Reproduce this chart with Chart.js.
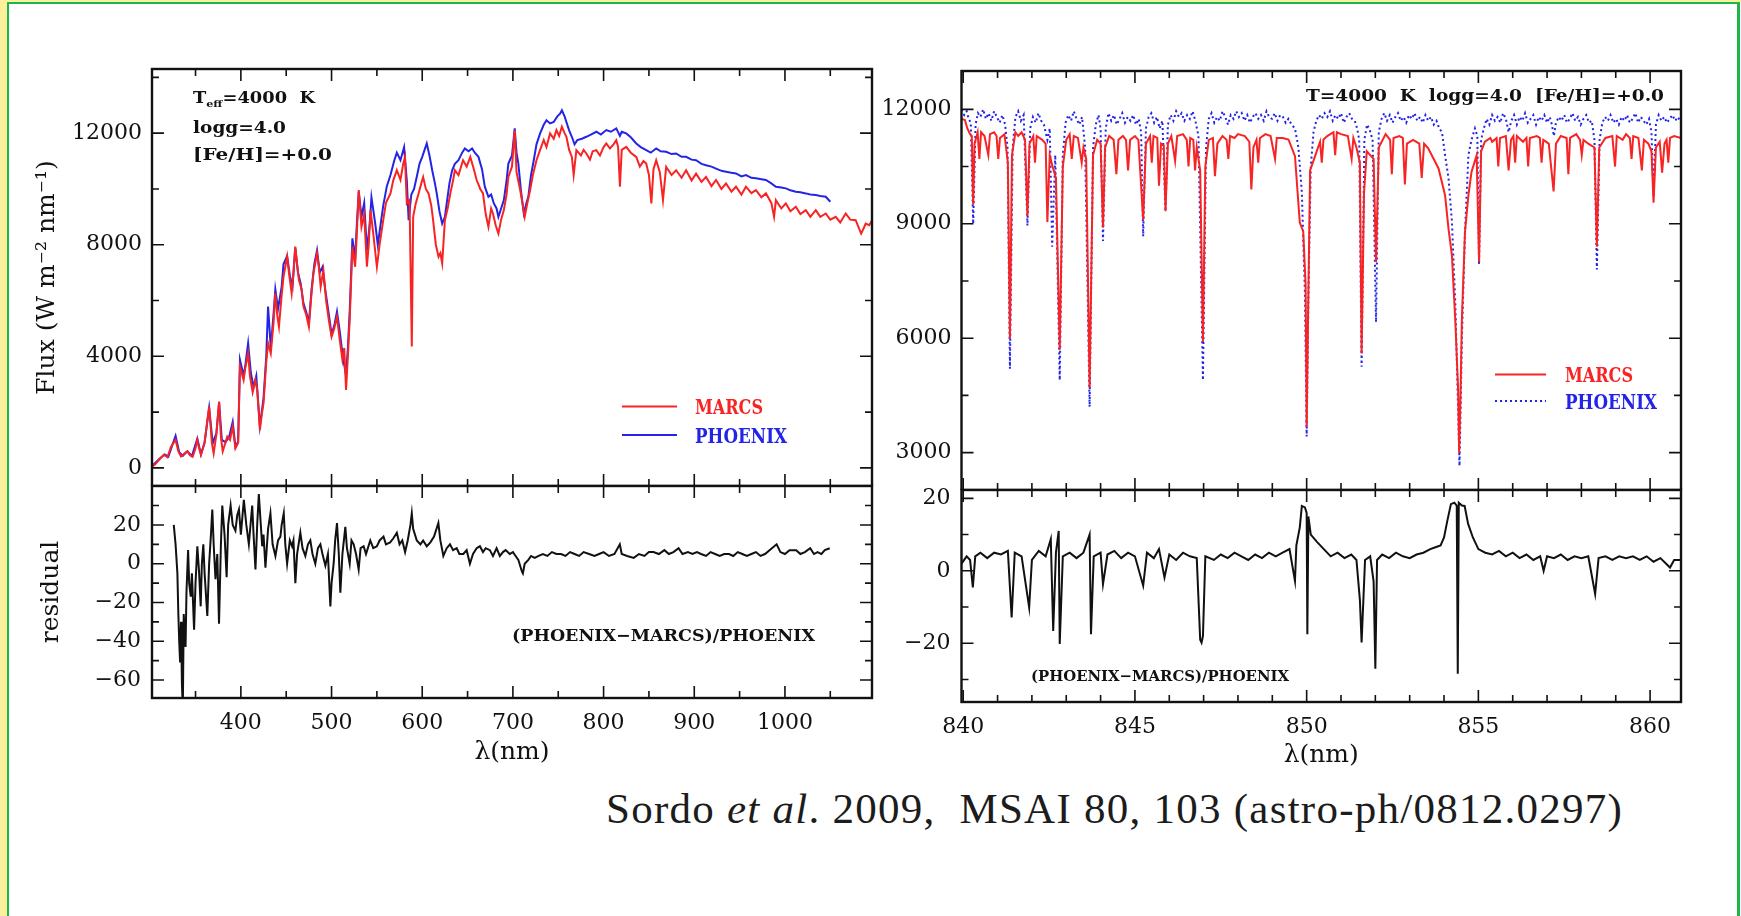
<!DOCTYPE html>
<html>
<head>
<meta charset="utf-8">
<script src="https://cdn.jsdelivr.net/npm/chart.js@4/dist/chart.umd.min.js"></script>
<style>
  html, body { margin: 0; padding: 0; background: #fff; }
  body { width: 1741px; height: 916px; position: relative; overflow: hidden; }
  .edge { position: absolute; }
  canvas { position: absolute; }
  .cite {
    position: absolute; left: 606px; top: 787px; white-space: nowrap;
    font: 43px "Liberation Serif", serif; line-height: 1; letter-spacing: 1.25px; color: #1c1c1c;
  }
</style>
</head>
<body>
<div class="edge" style="left:0;top:0;width:7px;height:916px;background:#fdf09c"></div>
<div class="edge" style="left:0;top:0;width:1741px;height:2px;background:#fdf09c"></div>
<div class="edge" style="left:7px;top:2px;width:2px;height:914px;background:#1db54a"></div>
<div class="edge" style="left:7px;top:2px;width:1733px;height:2px;background:#1db54a"></div>
<div class="edge" style="left:1737px;top:2px;width:3px;height:914px;background:#1db54a"></div>

<canvas id="wideFlux"></canvas>
<canvas id="wideResid"></canvas>
<canvas id="narrowFlux"></canvas>
<canvas id="narrowResid"></canvas>

<div class="cite">Sordo <i>et al</i>. 2009,&nbsp; MSAI 80, 103 (astro-ph/0812.0297)</div>

<script>
// ---------- broad spectrum, 300-1100 nm ----------
const marcsWideWave = [
  302, 305, 310, 315, 319, 323, 328, 331, 334, 338,
  341, 344, 347, 350, 352, 354, 356, 360, 365, 368,
  370, 373, 376, 378, 380, 383, 385, 388, 391, 394,
  397, 399, 403, 405, 408, 410, 413, 416, 418, 421,
  423, 425, 428, 430, 433, 436, 438, 440, 442, 445,
  447, 451, 453, 456, 458, 460, 462, 464, 467, 469,
  472, 475, 478, 480, 484, 486, 488, 491, 494, 497,
  500, 503, 506, 509, 512, 514, 516, 518, 520, 523,
  526, 528, 530, 533, 536, 539, 541, 543, 546, 550,
  553, 557, 560, 565, 568, 572, 576, 579, 581, 583,
  586, 588.5, 590, 593, 596, 599, 601, 604, 607, 610,
  612, 615, 618, 620, 622, 625, 628, 631, 634, 636,
  640, 645, 649, 653, 657, 660, 664, 667, 670, 673,
  676, 678, 681, 684, 687, 690, 693, 695, 699, 702,
  704, 708, 711, 713, 716, 719, 722, 726, 730, 734,
  737, 741, 745, 748, 751, 754, 757, 759, 762, 765,
  767, 770, 775, 778, 781, 785, 788, 792, 796, 800,
  803, 807, 811, 814, 816, 818, 820, 825, 830, 836,
  840, 844, 847, 850, 852.7, 855, 858, 862, 865.5, 869,
  875, 880, 886, 891, 897, 902, 908, 913, 919, 924,
  930, 935, 941, 946, 952, 957, 963, 968, 974, 979,
  985, 988, 990, 996, 1001, 1006, 1012, 1017, 1023, 1028,
  1034, 1039, 1045, 1050, 1056, 1061, 1067, 1072, 1078, 1084,
  1087, 1089, 1093, 1096
]
const marcsWide = [
  50, 110, 300, 470, 380, 760, 1000, 600, 410, 520,
  590, 450, 410, 700, 1000, 700, 470, 900, 2200, 900,
  520, 1200, 2380, 1100, 590, 900, 1120, 1000, 1480, 700,
  900, 3630, 3150, 3600, 4110, 3300, 2710, 3150, 2800, 1360,
  1900, 2320, 3800, 4470, 4110, 5200, 6260, 5500, 5060, 6200,
  6850, 7570, 7000, 6260, 7000, 7930, 7300, 6730, 6400, 5780,
  5500, 5060, 6300, 6970, 7690, 7200, 6500, 7090, 6000, 5300,
  4700, 5000, 5420, 4600, 3870, 4300, 2790, 4000, 5300, 7930,
  7210, 8500, 9960, 8640, 9100, 7210, 8000, 9240, 8400, 7210,
  8000, 8880, 9500, 9840, 10300, 10670, 10320, 10900, 11150, 9480,
  9600, 4350, 9000, 9500, 9840, 10200, 10430, 10000, 9840, 9400,
  8880, 8000, 7570, 7700, 7330, 8880, 9300, 9840, 10300, 10670,
  10500, 11030, 10800, 11150, 10700, 10320, 10000, 9840, 9100, 8640,
  9300, 9120, 8700, 8400, 8900, 9240, 9800, 10430, 10800, 12100,
  10600, 9960, 9400, 9000, 9500, 9960, 10500, 11030, 11400, 11750,
  11500, 11990, 11800, 12110, 11900, 12230, 12000, 11870, 11400, 11150,
  10500, 11390, 11200, 11400, 11270, 11050, 11350, 11390, 11200, 11500,
  11630, 11450, 11600, 11750, 11500, 10080, 11400, 11510, 11300, 11150,
  10800, 11000, 10910, 10500, 9480, 10700, 11030, 10600, 9600, 10790,
  10500, 10670, 10400, 10670, 10300, 10550, 10250, 10430, 10100, 10320,
  10000, 10200, 9900, 10080, 9800, 10080, 9850, 9960, 9700, 9840,
  9500, 9000, 9600, 9300, 9480, 9200, 9360, 9100, 9240, 9000,
  9240, 9000, 9120, 8900, 9000, 8800, 9120, 8900, 8880, 8400,
  8600, 8760, 8700, 8880
]
const phoenixWideWave = [
  302, 310, 316, 320, 324, 328, 332, 336, 341, 346,
  352, 356, 360, 365, 369, 373, 376, 379, 383, 387,
  391, 394, 397, 399, 403, 405, 408, 411, 414, 417,
  421, 425, 428, 430, 433, 436, 438, 441, 445, 447,
  451, 454, 457, 460, 463, 466, 469, 472, 475, 478,
  481, 484, 487, 490, 493, 497, 500, 503, 506, 509,
  512, 516, 518, 520, 523, 526, 528, 530, 533, 536,
  539, 542, 544, 548, 551, 554, 557, 561, 565, 569,
  572, 576, 580, 583, 585, 588, 591, 594, 597, 600,
  605, 608, 611, 614, 616, 619, 622, 625, 627, 630,
  633, 636, 640, 644, 647, 651, 655, 658, 662, 666,
  669, 673, 676, 679, 682, 684, 687, 690, 693, 695,
  699, 702, 704, 706, 709, 712, 715, 717, 720, 723,
  726, 730, 734, 737, 741, 745, 749, 752, 754, 757,
  759, 762, 765, 768, 771, 776, 781, 786, 792, 797,
  803, 808, 814, 818, 820, 825, 830, 836, 841, 847,
  852, 858, 863, 869, 875, 880, 886, 891, 897, 902,
  908, 913, 919, 924, 930, 935, 941, 946, 952, 957,
  963, 968, 974, 979, 985, 990, 996, 1001, 1006, 1012,
  1017, 1023, 1028, 1034, 1039, 1045, 1050
]
const phoenixWide = [
  60, 320, 480, 400, 780, 1150, 560, 430, 600, 420,
  1050, 480, 920, 2150, 880, 1250, 2350, 1000, 920, 1100,
  1650, 760, 950, 3870, 3300, 3700, 4470, 3400, 2900, 3300,
  1500, 2500, 4000, 5780, 4300, 5500, 6400, 5700, 6500, 7300,
  7600, 6900, 6500, 7900, 7000, 6600, 5900, 5600, 5200, 6400,
  7300, 7800, 7000, 7200, 6400, 5500, 4800, 5100, 5600, 4900,
  4100, 3300, 4300, 5600, 8230, 7500, 8800, 9900, 9000, 9500,
  7800, 8700, 9700, 8800, 8000, 8700, 9400, 10100, 10500, 11000,
  11300, 11030, 11500, 10300, 8880, 9800, 10000, 10435, 10900, 11150,
  11630, 11200, 10670, 10200, 9840, 9200, 8760, 9000, 9480, 10200,
  10670, 10900, 11030, 11300, 11450, 11350, 11450, 11300, 11150, 10700,
  10080, 9720, 9800, 9480, 9300, 9000, 9300, 9600, 10300, 10910,
  11200, 12170, 11300, 10910, 9900, 9120, 9500, 9720, 10500, 11030,
  11600, 11990, 12300, 12460, 12350, 12400, 12600, 12700, 12820, 12600,
  12400, 12100, 11870, 11600, 11750, 11800, 11870, 11950, 12050, 11950,
  12110, 12050, 12170, 11900, 12050, 11990, 11850, 11630, 11500, 11390,
  11300, 11450, 11350, 11330, 11250, 11270, 11150, 11150, 11050, 11030,
  10900, 10850, 10800, 10730, 10650, 10620, 10580, 10555, 10450, 10500,
  10400, 10380, 10350, 10320, 10200, 10080, 10050, 10020, 9950, 9900,
  9880, 9840, 9800, 9780, 9750, 9720, 9540
]
const residWideWave = [
  326, 328, 330, 331, 332, 333, 334, 335, 336, 337,
  338, 339, 340, 341.8, 343, 344.7, 346, 348.4, 350, 352,
  354, 355.7, 357, 358.6, 360, 363, 365, 367, 368.5, 370,
  372, 374, 375.9, 378, 379.5, 382, 384.3, 386, 388.7, 391,
  394, 396, 397.9, 400, 403.3, 406, 408.8, 411, 412.5, 414,
  416.1, 418, 419.8, 422, 423.5, 425, 427.1, 430, 432.6, 435,
  438.1, 441, 443.6, 445, 447.3, 449, 451, 454, 456.5, 458,
  460.1, 462, 465.6, 468, 471.1, 474, 476.6, 479, 482.1, 485,
  487.7, 490, 493.2, 496, 498.7, 500, 502.3, 504, 506, 508,
  509.7, 512, 515.2, 517, 520, 522, 524.4, 527, 529.9, 532,
  535.4, 538, 542.7, 546, 550, 553, 557.3, 560, 564.6, 568,
  572, 575, 578, 581.1, 584, 587, 588.5, 590, 594, 598,
  601, 605, 609, 613, 617.8, 620, 623.3, 627, 630.6, 634,
  638, 641, 645.3, 649, 652.6, 656, 660, 663.6, 667, 670,
  674.6, 678, 682, 685.6, 689, 692, 696.5, 700, 703, 706,
  709.9, 711, 713, 717, 720, 724, 728.4, 733, 738, 743,
  748, 753, 758, 763, 768, 773, 778, 784, 790, 795,
  800, 806, 812, 817.9, 820, 826, 833.3, 839, 845, 850,
  855, 861, 867, 872, 877, 882.7, 887, 893, 898, 903,
  907.5, 913, 918, 923, 928, 933, 938.3, 943, 948, 953,
  958, 963, 968, 973, 978, 983, 990.8, 995, 1000, 1005,
  1012.4, 1017, 1022, 1027.8, 1032, 1036, 1040.2, 1044, 1049.4
]
const residWide = [
  20, 10, -5, -25, -40, -51, -30, -62, -75, -26,
  -35, -43, -15, 7, -10, -17, -5, -34, -10, 9,
  -5, -22, 0, 10, -5, -27, 0, 15, 28, 10,
  -8, 5, -31, 10, 30, 15, -7, 20, 30, 20,
  17, 25, 28, 15, 33, 20, 10, 22, 30, 15,
  -3, 20, 36, 20, 9, 15, -2, 18, 26, 10,
  4, 12, 14, 20, 26, 10, 0, 12, 9, 12,
  -10, 5, 16, 8, 4, 10, 12, 5, 0, 8,
  10, 5, -1, 5, -22, -10, 0, 12, 21, 5,
  -15, 5, 19, 8, 0, 12, 10, 5, -3, 8,
  9, 5, 12, 8, 9, 12, 14, 10, 11, 13,
  16, 10, 12, 6, 12, 20, 26, 18, 12, 10,
  12, 9, 11, 14, 21, 12, 4, 8, 10, 7,
  8, 5, 5, 7, 0, 5, 8, 9, 6, 8,
  7, 4, 8, 4, 6, 7, 5, 6, 4, 2,
  -4, -5, 0, 2, 4, 3, 4, 5, 4, 6,
  5, 5, 4, 6, 5, 4, 6, 5, 4, 5,
  6, 4, 5, 10, 5, 4, 3, 5, 4, 6,
  6, 5, 7, 5, 6, 8, 5, 6, 5, 6,
  5, 4, 6, 5, 4, 5, 5, 4, 6, 5,
  4, 5, 6, 4, 5, 7, 10, 6, 5, 7,
  7, 5, 6, 8, 5, 6, 5, 7, 8
]

// ---------- Ca II triplet window, 840-861 nm ----------
const marcsNarrowWave = [
  839.95, 840.05, 840.12, 840.2, 840.25, 840.29, 840.33, 840.42, 840.47, 840.52,
  840.62, 840.73, 840.78, 840.9, 840.97, 841.02, 841.07, 841.2, 841.3, 841.36,
  841.42, 841.52, 841.6, 841.7, 841.8, 841.87, 841.93, 842.04, 842.09, 842.14,
  842.3, 842.4, 842.45, 842.52, 842.6, 842.7, 842.81, 842.9, 843.0, 843.1,
  843.16, 843.22, 843.34, 843.45, 843.5, 843.58, 843.68, 843.78, 843.9, 844.0,
  844.07, 844.13, 844.25, 844.38, 844.46, 844.52, 844.65, 844.74, 844.8, 844.86,
  845.0, 845.1, 845.24, 845.32, 845.44, 845.49, 845.54, 845.65, 845.7, 845.76,
  845.84, 845.89, 845.96, 846.06, 846.17, 846.23, 846.4, 846.51, 846.56, 846.61,
  846.7, 846.75, 846.8, 846.9, 846.98, 847.05, 847.15, 847.27, 847.33, 847.4,
  847.55, 847.67, 847.72, 847.77, 847.9, 848.0, 848.2, 848.33, 848.39, 848.45,
  848.54, 848.59, 848.64, 848.8, 848.95, 849.08, 849.13, 849.3, 849.47, 849.66,
  849.8, 849.9, 849.97, 850.0, 850.04, 850.1, 850.24, 850.39, 850.44, 850.49,
  850.6, 850.78, 850.83, 850.88, 851.0, 851.2, 851.31, 851.36, 851.45, 851.55,
  851.6, 851.67, 851.75, 851.85, 851.95, 852.02, 852.1, 852.3, 852.43, 852.48,
  852.53, 852.7, 852.8, 852.86, 852.92, 853.1, 853.28, 853.35, 853.42, 853.54,
  853.84, 854.03, 854.13, 854.23, 854.33, 854.41, 854.44, 854.48, 854.52, 854.61,
  854.71, 854.8, 854.95, 855.02, 855.08, 855.19, 855.35, 855.4, 855.53, 855.58,
  855.63, 855.8, 855.88, 855.95, 856.02, 856.07, 856.12, 856.3, 856.4, 856.45,
  856.5, 856.7, 856.79, 856.84, 856.89, 857.05, 857.19, 857.26, 857.4, 857.57,
  857.62, 857.67, 857.85, 857.96, 858.01, 858.06, 858.2, 858.38, 858.45, 858.52,
  858.7, 858.9, 858.98, 859.03, 859.2, 859.3, 859.41, 859.46, 859.51, 859.66,
  859.76, 859.82, 859.95, 860.04, 860.1, 860.17, 860.28, 860.35, 860.42, 860.48,
  860.53, 860.58, 860.7, 860.9
]
const marcsNarrow = [
  11750, 11720, 11500, 11350, 11300, 9500, 11100, 11400, 10700, 11400,
  11300, 10800, 11350, 11400, 11300, 10700, 11250, 11350, 10600, 6000,
  10800, 11400, 11300, 11400, 11200, 9200, 11100, 11300, 10600, 11300,
  11200, 11100, 9050, 10800, 10500, 10200, 5700, 10500, 11200, 11350,
  10700, 11300, 11250, 10600, 11000, 10700, 4700, 10800, 11200, 11100,
  8900, 11000, 11300, 11200, 10300, 11200, 11300, 11200, 10400, 11200,
  11300, 11200, 9100, 11100, 11300, 10600, 11300, 11250, 10000, 11100,
  11050, 9330, 11100, 11300, 10650, 11300, 11350, 11200, 10500, 11250,
  11200, 10400, 11000, 10400, 5900, 10500, 11200, 11250, 10250, 11100,
  11300, 11200, 10700, 11300, 11250, 11350, 11300, 11150, 9900, 11000,
  11200, 10600, 11250, 11350, 11300, 10700, 11250, 11250, 11210, 10770,
  9030, 8800, 7400, 3680, 6500, 10400, 10760, 11150, 10600, 11210,
  11300, 11400, 10800, 11400, 11350, 11300, 10700, 11250, 11000, 10600,
  5600, 9800, 10900, 10800, 10700, 8000, 11000, 11350, 11200, 10300,
  11250, 11300, 11250, 10030, 11100, 11200, 11100, 10200, 11100, 10980,
  10450, 9750, 8870, 8170, 6420, 4670, 3000, 4500, 6500, 8780,
  9750, 10360, 10800, 8000, 10900, 11150, 11250, 11150, 11250, 10500,
  11250, 11300, 10400, 11200, 11300, 10600, 11300, 11150, 11250, 10500,
  11250, 11300, 11250, 10600, 11200, 11100, 9850, 11100, 11300, 11250,
  10300, 11250, 11350, 11200, 10800, 11200, 11100, 11000, 8400, 11000,
  11250, 11300, 10500, 11300, 11200, 11350, 11250, 10700, 11300, 11250,
  10400, 11200, 11100, 10900, 9550, 11000, 11150, 10340, 11100, 11200,
  10600, 11250, 11300, 11250
]
const phoenixNarrowWave = [
  839.95, 840.03, 840.1, 840.16, 840.22, 840.29, 840.36, 840.43, 840.5, 840.58,
  840.66, 840.74, 840.82, 840.9, 840.98, 841.06, 841.14, 841.22, 841.29, 841.36,
  841.44, 841.52, 841.6, 841.68, 841.76, 841.87, 841.95, 842.03, 842.11, 842.19,
  842.27, 842.35, 842.45, 842.52, 842.59, 842.68, 842.81, 842.9, 842.98, 843.06,
  843.14, 843.22, 843.3, 843.38, 843.46, 843.55, 843.68, 843.78, 843.86, 843.94,
  844.0, 844.07, 844.15, 844.23, 844.31, 844.39, 844.47, 844.55, 844.63, 844.71,
  844.79, 844.87, 844.95, 845.03, 845.11, 845.18, 845.24, 845.32, 845.4, 845.48,
  845.56, 845.64, 845.72, 845.8, 845.89, 845.96, 846.04, 846.12, 846.2, 846.28,
  846.36, 846.44, 846.52, 846.6, 846.68, 846.76, 846.85, 846.98, 847.07, 847.15,
  847.23, 847.31, 847.39, 847.47, 847.55, 847.63, 847.71, 847.79, 847.87, 847.95,
  848.03, 848.11, 848.19, 848.27, 848.35, 848.43, 848.51, 848.59, 848.67, 848.75,
  848.83, 848.91, 848.99, 849.07, 849.15, 849.23, 849.31, 849.39, 849.47, 849.56,
  849.66, 849.76, 849.86, 849.95, 850.0, 850.05, 850.12, 850.2, 850.28, 850.36,
  850.44, 850.52, 850.6, 850.68, 850.76, 850.84, 850.92, 851.0, 851.08, 851.16,
  851.24, 851.32, 851.4, 851.47, 851.53, 851.6, 851.68, 851.76, 851.84, 851.92,
  852.02, 852.1, 852.18, 852.26, 852.34, 852.42, 852.5, 852.58, 852.66, 852.74,
  852.82, 852.9, 852.98, 853.06, 853.14, 853.22, 853.3, 853.38, 853.46, 853.54,
  853.62, 853.7, 853.78, 853.86, 853.94, 854.03, 854.13, 854.23, 854.33, 854.42,
  854.45, 854.48, 854.52, 854.61, 854.71, 854.8, 854.9, 854.97, 855.02, 855.08,
  855.16, 855.24, 855.32, 855.4, 855.48, 855.56, 855.64, 855.72, 855.8, 855.88,
  855.96, 856.04, 856.12, 856.2, 856.28, 856.36, 856.44, 856.52, 856.6, 856.68,
  856.76, 856.84, 856.92, 857.0, 857.08, 857.14, 857.2, 857.26, 857.34, 857.42,
  857.5, 857.58, 857.66, 857.74, 857.82, 857.9, 857.98, 858.06, 858.14, 858.22,
  858.3, 858.38, 858.45, 858.53, 858.61, 858.69, 858.77, 858.85, 858.93, 859.01,
  859.09, 859.17, 859.25, 859.33, 859.41, 859.49, 859.57, 859.65, 859.73, 859.81,
  859.89, 859.97, 860.04, 860.1, 860.17, 860.25, 860.33, 860.41, 860.49, 860.57,
  860.65, 860.73, 860.81, 860.9
]
const phoenixNarrow = [
  12000, 11850, 11950, 11750, 11650, 9000, 11600, 11900, 11800, 12000,
  11750, 11900, 11700, 11950, 11800, 11650, 11850, 11600, 11000, 5200,
  11000, 11800, 11950, 11700, 11850, 8950, 11500, 11800, 11650, 11900,
  11700, 11600, 11200, 11500, 8400, 10800, 4900, 10800, 11650, 11850,
  11700, 11950, 11750, 11600, 11800, 11000, 4200, 11000, 11600, 11850,
  11500, 8550, 11500, 11900, 11700, 11850, 11600, 11750, 11900, 11650,
  11800, 11700, 11850, 11600, 11750, 11400, 8670, 11500, 11800, 11900,
  11650, 11800, 11500, 11700, 9330, 11600, 11850, 11700, 11950, 11800,
  11900, 11700, 11850, 11750, 11950, 11700, 11300, 4900, 11000, 11750,
  11900, 11650, 11800, 11700, 11950, 11800, 11600, 11850, 11750, 11950,
  11800, 11900, 11700, 11850, 11650, 11800, 11900, 11750, 11850, 11700,
  11950, 11800, 11750, 11900, 11700, 11850, 11800, 11650, 11750, 11600,
  11500, 11000, 9810, 7180, 3420, 7000, 10500, 11400, 11700, 11850,
  11750, 11900, 11800, 11950, 11700, 11850, 11750, 11900, 11650, 11800,
  11900, 11750, 11700, 11500, 11200, 5250, 11200, 11600, 11450, 11200,
  6420, 11400, 11750, 11900, 11700, 11850, 11650, 11800, 11900, 11700,
  11800, 11650, 11850, 11750, 11900, 11700, 11800, 11650, 11850, 11700,
  11800, 11600, 11700, 11500, 11400, 10800, 10200, 9050, 6860, 3790,
  2650, 4000, 6000, 8780, 10800, 11200, 11500, 11300, 7930, 11200,
  11500, 11750, 11600, 11850, 11700, 11800, 11650, 11900, 11750, 11400,
  11700, 11850, 11600, 11800, 11700, 11900, 11650, 11750, 11850, 11600,
  11800, 11700, 11850, 11650, 11800, 11600, 11300, 11650, 11800, 11700,
  11850, 11650, 11750, 11900, 11700, 11800, 11600, 11750, 11850, 11650,
  11700, 11200, 7800, 11200, 11650, 11800, 11700, 11850, 11650, 11750,
  11600, 11800, 11700, 11850, 11650, 11750, 11900, 11650, 11800, 11700,
  11600, 11750, 11400, 9700, 11600, 11850, 11700, 11800, 11650, 11750,
  11850, 11700, 11800, 11650
]
const residNarrowWave = [
  839.95, 840.1, 840.2, 840.28, 840.35, 840.5, 840.7, 840.9, 841.1, 841.3,
  841.41, 841.5, 841.7, 841.92, 842.0, 842.2, 842.4, 842.55, 842.62, 842.7,
  842.78, 842.81, 842.9, 843.1, 843.3, 843.5, 843.68, 843.72, 843.8, 844.0,
  844.07, 844.2, 844.4, 844.6, 844.8, 845.0, 845.24, 845.35, 845.55, 845.7,
  845.86, 846.0, 846.2, 846.4, 846.6, 846.8, 846.9, 846.94, 846.98, 847.05,
  847.3, 847.5, 847.7, 847.9, 848.1, 848.3, 848.5, 848.7, 848.9, 849.1,
  849.3, 849.5, 849.66, 849.7, 849.8, 849.86, 849.95, 850.0, 850.02, 850.05,
  850.12, 850.3, 850.5, 850.7, 850.9, 851.1, 851.3, 851.45, 851.55, 851.6,
  851.7, 851.85, 851.95, 852.0, 852.05, 852.2, 852.4, 852.6, 852.8, 853.0,
  853.2, 853.4, 853.6, 853.75, 853.9, 854.0, 854.1, 854.2, 854.3, 854.37,
  854.4, 854.43, 854.52, 854.6, 854.7, 854.84, 855.0, 855.2, 855.4, 855.6,
  855.8, 856.0, 856.2, 856.4, 856.6, 856.8, 856.9, 857.0, 857.2, 857.4,
  857.6, 857.8, 858.0, 858.2, 858.4, 858.5, 858.7, 858.9, 859.1, 859.3,
  859.5, 859.7, 859.9, 860.1, 860.3, 860.58, 860.7, 860.9
]
const residNarrow = [
  2, 4, 3, -4.6, 4, 5, 3.5, 5, 4.5, 5.5,
  -12.9, 5, 4, -10.1, 3, 5.5, 4, 8.7, -16.6, 5,
  11, -20.2, 4, 5, 3.5, 5, 10, -17.5, 4, 5,
  -3.7, 4.5, 5.5, 3.5, 5, 4, -4.1, 5, 3.5, 6,
  -1.8, 4.5, 3, 5, 4, 3.5, -19, -19.8, -18, 4,
  3, 4.5, 3.5, 5, 4, 3, 4.5, 3.5, 5, 4,
  5, 6, -2.8, 7, 12, 17.9, 17.5, 16, -17.5, 15,
  10, 8, 6, 4, 5, 3.5, 4.5, 3, -8, -19.8,
  3, 4, -3, -27, 3, 4.5, 3.5, 5, 4, 3.5,
  4.5, 5, 6, 6.5, 7, 9.2, 14, 18.4, 18.8, 18,
  -28.4, 18.8, 18, 17.9, 13, 9.2, 6, 5, 4.5, 5.5,
  4, 5, 3.5, 4.5, 3, 4, 0, 4, 3.5, 4.5,
  3, 4, 3.5, 4, -6.4, 3.5, 4, 3, 4, 3.5,
  4, 3, 4, 2.5, 3.5, 0.9, 3, 3
]

// ---------- ticks (minor marks, and the ones carrying a label) ----------
const wideTicks = [350, 400, 450, 500, 550, 600, 650, 700, 750, 800, 850, 900, 950, 1000, 1050]
const wideLabels = [400, 500, 600, 700, 800, 900, 1000]
const wideFluxTicks = [0, 2000, 4000, 6000, 8000, 10000, 12000, 14000]
const wideFluxLabels = [0, 4000, 8000, 12000]
const wideResidTicks = [-60, -50, -40, -30, -20, -10, 0, 10, 20, 30, 40]
const wideResidLabels = [-60, -40, -20, 0, 20]
const narrowTicks = [840, 841, 842, 843, 844, 845, 846, 847, 848, 849, 850,
  851, 852, 853, 854, 855, 856, 857, 858, 859, 860]
const narrowLabels = [840, 845, 850, 855, 860]
const narrowFluxTicks = [3000, 4500, 6000, 7500, 9000, 10500, 12000]
const narrowFluxLabels = [3000, 6000, 9000, 12000]
const narrowResidTicks = [-30, -20, -10, 0, 10, 20]
const narrowResidLabels = [-20, 0, 20]

// ---------- styling ----------
const ink = "#111"
const red = "#f82424"
const blue = "#2424e6"
const tickFont = { family: "DejaVu Serif", size: 22 }
const titleFont = { family: "DejaVu Serif", size: 25, lineHeight: 1.2 }
const noteFace = '"DejaVu Serif"'

const pts = (xs, ys) => xs.map((x, i) => ({ x, y: ys[i] }))
const minus = v => (v < 0 ? "\u2212" + Math.abs(v) : String(v))

function axis({ position, min, max, ticks, labels, size, showLabels = true, title, pad = 10 }) {
  return {
    type: "linear",
    position,
    min,
    max,
    afterBuildTicks: s => { s.ticks = ticks.map(value => ({ value })) },
    afterFit: s => {
      if (s.isHorizontal()) s.height = size; else s.width = size
      // no extra room for labels hanging over the ends
      s.paddingTop = s.paddingBottom = s.paddingLeft = s.paddingRight = 0
    },
    grid: { display: false, drawTicks: false },
    border: { display: false },
    ticks: {
      display: showLabels,
      autoSkip: false,
      maxRotation: 0,
      padding: pad,
      font: tickFont,
      color: ink,
      callback: v => (labels.includes(v) ? minus(v) : "")
    },
    title: title
      ? { display: true, text: title, font: titleFont, color: ink, padding: 0 }
      : { display: false }
  }
}

function line(data, color, extra = {}) {
  return {
    data,
    borderColor: color,
    borderWidth: 2,
    pointRadius: 0,
    tension: 0,
    fill: false,
    clip: 0,
    ...extra
  }
}

// inward tick marks on all four sides plus the box
function framePlugin(xMajor, yMajor) {
  return {
    id: "frame",
    afterDatasetsDraw(chart) {
      const { ctx, chartArea: a, scales: { x, y } } = chart
      ctx.save()
      ctx.strokeStyle = ink
      ctx.lineWidth = 1.6
      ctx.beginPath()
      x.ticks.forEach(t => {
        const px = x.getPixelForValue(t.value)
        const len = xMajor.includes(t.value) ? 12 : 7
        ctx.moveTo(px, a.top); ctx.lineTo(px, a.top + len)
        ctx.moveTo(px, a.bottom); ctx.lineTo(px, a.bottom - len)
      })
      y.ticks.forEach(t => {
        const py = y.getPixelForValue(t.value)
        const len = yMajor.includes(t.value) ? 12 : 7
        ctx.moveTo(a.left, py); ctx.lineTo(a.left + len, py)
        ctx.moveTo(a.right, py); ctx.lineTo(a.right - len, py)
      })
      ctx.stroke()
      ctx.lineWidth = 2.4
      ctx.strokeRect(a.left, a.top, a.right - a.left, a.bottom - a.top)
      ctx.restore()
    }
  }
}

// text squeezed/stretched to the width it has in the figure
function runs(ctx, parts, x, y, width, color) {
  let total = 0
  parts.forEach(p => { ctx.font = p.font; p.w = ctx.measureText(p.text).width; total += p.w })
  ctx.save()
  ctx.translate(x, y)
  ctx.scale(width / total, 1)
  ctx.fillStyle = color
  ctx.textBaseline = "alphabetic"
  let cx = 0
  parts.forEach(p => { ctx.font = p.font; ctx.fillText(p.text, cx, p.dy || 0); cx += p.w })
  ctx.restore()
}
const bold = px => `bold ${px}px ${noteFace}`
const note = (ctx, text, x, y, width, px, color = ink) =>
  runs(ctx, [{ text, font: bold(px) }], x, y, width, color)

function sample(ctx, x0, x1, y, color, dash) {
  ctx.save()
  ctx.strokeStyle = color
  ctx.lineWidth = 2
  ctx.setLineDash(dash || [])
  ctx.beginPath(); ctx.moveTo(x0, y); ctx.lineTo(x1, y); ctx.stroke()
  ctx.restore()
}

function notesPlugin(box, draw) {
  return {
    id: "notes",
    afterDraw(chart) {
      const { ctx } = chart
      ctx.save()
      ctx.translate(-box.x, -box.y)
      draw(ctx)
      ctx.restore()
    }
  }
}

function panel(id, box, padding, datasets, scales, frame, notes) {
  const canvas = document.getElementById(id)
  canvas.width = box.w
  canvas.height = box.h
  canvas.style.left = box.x + "px"
  canvas.style.top = box.y + "px"
  return new Chart(canvas, {
    type: "line",
    data: { datasets },
    options: {
      responsive: false,
      animation: false,
      events: [],
      layout: { autoPadding: false, padding },
      plugins: { legend: { display: false }, tooltip: { enabled: false } },
      scales
    },
    plugins: [frame, notesPlugin(box, notes)]
  })
}

// ---------- left: broad spectrum ----------
const wideFluxBox = { x: 0, y: 0, w: 882, h: 486 }
panel("wideFlux", wideFluxBox, { top: 69, left: 32, right: 10, bottom: 0 },
  [
    line(pts(marcsWideWave, marcsWide), red),
    line(pts(phoenixWideWave, phoenixWide), blue)
  ],
  {
    x: axis({ position: "bottom", min: 302, max: 1096, ticks: wideTicks, labels: wideLabels, size: 0, showLabels: false }),
    y: axis({ position: "left", min: -650, max: 14300, ticks: wideFluxTicks, labels: wideFluxLabels, size: 120,
      title: "Flux (W m\u207B\u00B2 nm\u207B\u00B9)" })
  },
  framePlugin(wideLabels, wideFluxLabels),
  ctx => {
    runs(ctx, [
      { text: "T", font: bold(16) },
      { text: "eff", font: bold(10), dy: 4 },
      { text: "=4000  K", font: bold(16) }
    ], 193, 103, 122, ink)
    note(ctx, "logg=4.0", 193, 133, 93, 16)
    note(ctx, "[Fe/H]=+0.0", 193, 160, 139, 16)
    sample(ctx, 622, 677, 406.5, red)
    note(ctx, "MARCS", 695, 414, 68, 20, red)
    sample(ctx, 622, 677, 435, blue)
    note(ctx, "PHOENIX", 695, 443, 92, 20, blue)
  })

const wideResidBox = { x: 0, y: 476, w: 882, h: 291 }
panel("wideResid", wideResidBox, { top: 10, left: 36, right: 10, bottom: 0 },
  [line(pts(residWideWave, residWide), ink)],
  {
    x: axis({ position: "bottom", min: 302, max: 1096, ticks: wideTicks, labels: wideLabels, size: 69,
      title: "\u03BB(nm)", pad: 12 }),
    y: axis({ position: "left", min: -69.3, max: 40.1, ticks: wideResidTicks, labels: wideResidLabels, size: 116,
      title: "residual", pad: 11 })
  },
  framePlugin(wideLabels, wideResidLabels),
  ctx => note(ctx, "(PHOENIX\u2212MARCS)/PHOENIX", 512, 641, 303, 17))

// ---------- right: Ca II triplet window ----------
const narrowFluxBox = { x: 880, y: 0, w: 811, h: 490 }
panel("narrowFlux", narrowFluxBox, { top: 71, left: 0, right: 10, bottom: 0 },
  [
    line(pts(marcsNarrowWave, marcsNarrow), red),
    line(pts(phoenixNarrowWave, phoenixNarrow), blue, { borderDash: [2, 3] })
  ],
  {
    x: axis({ position: "bottom", min: 839.95, max: 860.9, ticks: narrowTicks, labels: narrowLabels, size: 0, showLabels: false }),
    y: axis({ position: "left", min: 2020, max: 13005, ticks: narrowFluxTicks, labels: narrowFluxLabels, size: 81.5 })
  },
  framePlugin(narrowLabels, narrowFluxLabels),
  ctx => {
    note(ctx, "T=4000  K  logg=4.0  [Fe/H]=+0.0", 1306, 101, 358, 16)
    sample(ctx, 1495, 1546, 374.5, red)
    note(ctx, "MARCS", 1565, 382, 68, 20, red)
    sample(ctx, 1495, 1546, 401, blue, [2, 3])
    note(ctx, "PHOENIX", 1565, 408.5, 92, 20, blue)
  })

const narrowResidBox = { x: 880, y: 480, w: 811, h: 290 }
panel("narrowResid", narrowResidBox, { top: 10, left: 0, right: 10, bottom: 0 },
  [line(pts(residNarrowWave, residNarrow), ink)],
  {
    x: axis({ position: "bottom", min: 839.95, max: 860.9, ticks: narrowTicks, labels: narrowLabels, size: 68,
      title: "\u03BB(nm)", pad: 12 }),
    y: axis({ position: "left", min: -36.2, max: 22.3, ticks: narrowResidTicks, labels: narrowResidLabels, size: 81.5, pad: 11 })
  },
  framePlugin(narrowLabels, narrowResidLabels),
  ctx => note(ctx, "(PHOENIX\u2212MARCS)/PHOENIX", 1031, 681, 258, 15))
</script>
</body>
</html>
